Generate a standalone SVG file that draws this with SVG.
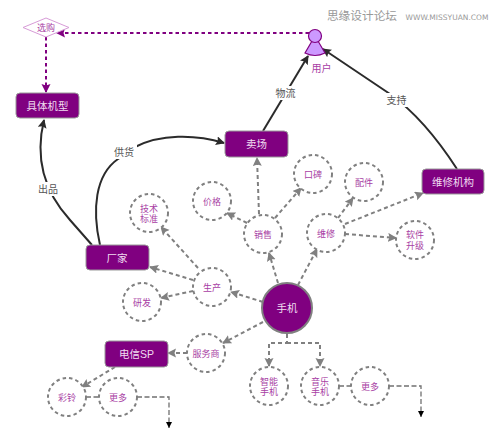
<svg xmlns="http://www.w3.org/2000/svg" width="500" height="445" viewBox="0 0 500 445">
<style>
text{font-family:"Liberation Sans","Noto Sans CJK SC",sans-serif;text-anchor:middle}
.box rect{fill:#800080;stroke:#999;stroke-width:1}
.box text{fill:#f0dcf0;font-size:10.500px}
.c circle{fill:#fff;stroke:#808080;stroke-width:2;stroke-dasharray:3.500 3}
.c text{fill:#a83ea4;font-size:9px}
.k{fill:none;stroke:#2b2b2b;stroke-width:2;marker-end:url(#ak)}
.g{fill:none;stroke:#808080;stroke-width:2;stroke-dasharray:4 3;marker-end:url(#ag)}
.p{fill:none;stroke:#800080;stroke-width:2;stroke-dasharray:3.500 3;marker-end:url(#ap)}
.t{fill:none;stroke:#707070;stroke-width:1.300;stroke-dasharray:5 2.500}
.ta{marker-end:url(#at)}
.l{fill:#555;font-size:10px}
</style>
<defs>
<marker id="ak" markerUnits="userSpaceOnUse" markerWidth="10" markerHeight="10" refX="8" refY="4.500" orient="auto"><path d="M0 0L9 4.500L0 9L1.500 4.500Z" fill="#2b2b2b"/></marker>
<marker id="ag" markerUnits="userSpaceOnUse" markerWidth="10" markerHeight="10" refX="8" refY="4.500" orient="auto"><path d="M0 0L9 4.500L0 9L1.500 4.500Z" fill="#808080"/></marker>
<marker id="ap" markerUnits="userSpaceOnUse" markerWidth="10" markerHeight="10" refX="8" refY="4.500" orient="auto"><path d="M0 0L9 4.500L0 9L1.500 4.500Z" fill="#800080"/></marker>
<marker id="at" markerUnits="userSpaceOnUse" markerWidth="8" markerHeight="8" refX="6" refY="3" orient="auto"><path d="M0 0L6 3L0 6Z" fill="#000"/></marker>
</defs>
<text x="362" y="20" style="font-size:11.700px;fill:#999">思缘设计论坛</text>
<text x="447" y="20" style="font-size:7.500px;fill:#999;font-family:'DejaVu Sans',sans-serif">WWW.MISSYUAN.COM</text>
<g id="connectors">
<path class="p" d="M309 33H57"/>
<path class="p" d="M46 37V92"/>
<path class="k" d="M92 245L70 220C50 198 33 165 44 120"/>
<path class="k" d="M100 245C92 210 95 175 118 159C123 155 129 150 135 147C160 134 195 134 224 143"/>
<path class="k" d="M263 131L308 56"/>
<path class="k" d="M457 169C435 135 415 112 390 94L323 49"/>
<path class="g" d="M259 214L257 158"/>
<path class="g" d="M247 223L227 213"/>
<path class="g" d="M275 218L301 188"/>
<path class="g" d="M338 218L353 198"/>
<path class="g" d="M345 224L423 193"/>
<path class="g" d="M345 234L396 238"/>
<path class="g" d="M298 285L317 249"/>
<path class="g" d="M278 283L269 253"/>
<path class="g" d="M263 302L231 292"/>
<path class="g" d="M198 268L161 227"/>
<path class="g" d="M193 280L150 267"/>
<path class="g" d="M193 291L161 298"/>
<path class="g" d="M263 322L223 343"/>
<path class="g" d="M187 353H168"/>
<path class="g" d="M115 367L82 387"/>
<path class="g" d="M287 334V343H269V366"/>
<path class="g" d="M287 343H320V366"/>
<path class="t" d="M86 397H99"/>
<path class="t ta" d="M137 397H169V428"/>
<path class="t" d="M339 386H351"/>
<path class="t ta" d="M389 386H421V417"/>
</g>
<g id="xuangou"><path d="M23 27.500L46 18L69 27.500L46 37Z" fill="#fff" stroke="#d79bd7" stroke-width="1"/><text x="46" y="31" style="font-size:9px;fill:#a83ea4">选购</text></g>
<g id="user"><path d="M312 41L305 53Q315 58 325 53L318 41Z" fill="#cc99ff" stroke="#800080" stroke-width="1.200"/><circle cx="315" cy="36" r="6.500" fill="#cc99ff" stroke="#800080" stroke-width="1.200"/><text x="321.500" y="72" style="font-size:10px;fill:#a83ea4">用户</text></g>
<g id="label-chupin"><rect x="37" y="182" width="23" height="14" fill="#fff"/><text class="l" x="48" y="193">出品</text></g>
<g id="label-gonghuo"><rect x="112" y="145" width="25" height="14" fill="#fff"/><text class="l" x="124" y="156">供货</text></g>
<g id="label-wuliu"><rect x="274" y="86" width="23" height="14" fill="#fff"/><text class="l" x="285.500" y="97">物流</text></g>
<g id="label-zhichi"><rect x="385" y="93" width="23" height="14" fill="#fff"/><text class="l" x="396.500" y="104">支持</text></g>
<g id="jutijixing" class="box"><rect x="16" y="93" width="63" height="25" rx="4"/><text x="47.500" y="109.500">具体机型</text></g>
<g id="maichang" class="box"><rect x="225" y="131" width="63" height="26" rx="4"/><text x="256.500" y="148">卖场</text></g>
<g id="weixiujigou" class="box"><rect x="422" y="169" width="62" height="25" rx="4"/><text x="453" y="185.500">维修机构</text></g>
<g id="changjia" class="box"><rect x="86" y="245" width="63" height="25" rx="4"/><text x="117" y="261.500">厂家</text></g>
<g id="dianxinsp" class="box"><rect x="105" y="341" width="63" height="26" rx="4"/><text x="136.500" y="357.500">电信SP</text></g>
<g id="shouji"><circle cx="287" cy="308" r="25" fill="#800080" stroke="#808080" stroke-width="2"/><text x="287" y="312" style="font-size:10.500px;fill:#f0dcf0">手机</text></g>
<g id="jiage" class="c"><circle cx="212" cy="201" r="19"/><text x="212" y="204.500">价格</text></g>
<g id="jishu" class="c"><circle cx="149" cy="213" r="19"/><text x="149" y="211.500">技术</text><text x="149" y="222">标准</text></g>
<g id="xiaoshou" class="c"><circle cx="263" cy="234" r="19"/><text x="263" y="237.500">销售</text></g>
<g id="shengchan" class="c"><circle cx="212" cy="287" r="19"/><text x="212" y="290.500">生产</text></g>
<g id="yanfa" class="c"><circle cx="142" cy="302" r="19"/><text x="142" y="305.500">研发</text></g>
<g id="koubei" class="c"><circle cx="313" cy="174" r="19"/><text x="313" y="177.500">口碑</text></g>
<g id="peijian" class="c"><circle cx="364" cy="182" r="19"/><text x="364" y="185.500">配件</text></g>
<g id="weixiu" class="c"><circle cx="326" cy="233" r="19"/><text x="326" y="236.500">维修</text></g>
<g id="ruanjian" class="c"><circle cx="415" cy="240" r="19"/><text x="415" y="238">软件</text><text x="415" y="249">升级</text></g>
<g id="fuwushang" class="c"><circle cx="206" cy="353" r="19"/><text x="206" y="356.500">服务商</text></g>
<g id="cailing" class="c"><circle cx="67" cy="397" r="19"/><text x="67" y="400.500">彩铃</text></g>
<g id="gengduo1" class="c"><circle cx="118" cy="397" r="19"/><text x="118" y="400.500">更多</text></g>
<g id="zhineng" class="c"><circle cx="269" cy="386" r="19"/><text x="269" y="384.500">智能</text><text x="269" y="395">手机</text></g>
<g id="yinyue" class="c"><circle cx="320" cy="386" r="19"/><text x="320" y="384.500">音乐</text><text x="320" y="395">手机</text></g>
<g id="gengduo2" class="c"><circle cx="370" cy="386" r="19"/><text x="370" y="389.500">更多</text></g>
</svg>
